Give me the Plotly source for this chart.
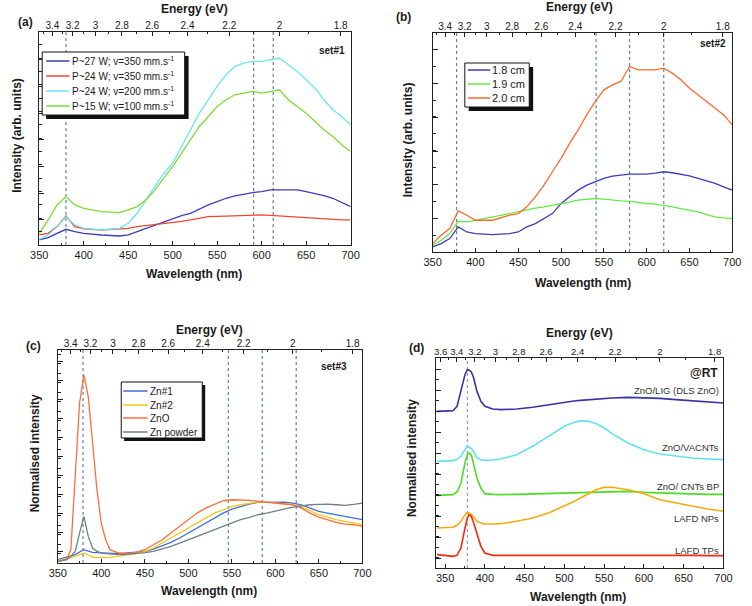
import plotly.graph_objects as go

W, H = 752, 606
def px(x): return x / W
def py(y): return 1 - y / H

# ---------------- data ----------------
# Panel (a) set#1
a_wl = [350, 360, 370, 380, 390, 400, 420, 440, 450, 460, 470, 480, 490, 500, 510, 520, 530, 540, 550, 560, 570, 580, 590, 600, 610, 620, 630, 640, 650, 660, 670, 680, 690, 700]
a_p27_v350 = [15, 22, 35, 47, 40, 35, 30, 27, 30, 40, 50, 60, 70, 80, 88, 95, 108, 120, 130, 140, 147, 153, 157, 160, 165, 165, 166, 165, 160, 155, 148, 140, 128, 115]
a_p24_v350 = [30, 35, 55, 87, 55, 48, 45, 47, 50, 55, 58, 60, 64, 67, 71, 75, 80, 85, 86, 87, 88, 88, 89, 90, 89, 87, 85, 83, 81, 80, 78, 75, 75, 75]
a_p24_v200 = [17, 30, 55, 85, 60, 50, 45, 50, 65, 95, 135, 175, 215, 245, 295, 345, 395, 435, 475, 510, 535, 545, 550, 550, 555, 560, 540, 520, 495, 470, 435, 405, 385, 360]
a_p15_v100 = [35, 75, 120, 145, 120, 110, 100, 97, 105, 115, 135, 165, 200, 235, 275, 315, 355, 385, 415, 435, 450, 455, 460, 455, 460, 465, 435, 415, 395, 370, 345, 325, 300, 280]
a_names = ["P~27 W; v=350 mm.s<sup>-1</sup>", "P~24 W; v=350 mm.s<sup>-1</sup>",
           "P~24 W; v=200 mm.s<sup>-1</sup>", "P~15 W; v=100 mm.s<sup>-1</sup>"]
a_marks = [380, 591, 613]

# Panel (b) set#2
b_wl = [350, 360, 370, 380, 390, 400, 420, 440, 450, 460, 470, 480, 490, 500, 510, 520, 530, 540, 550, 560, 570, 580, 590, 600, 610, 620, 630, 640, 650, 660, 670, 680, 690, 700]
b_18 = [15, 25, 40, 75, 60, 55, 52, 55, 60, 75, 85, 100, 115, 145, 165, 185, 200, 210, 220, 227, 230, 233, 233, 233, 236, 240, 237, 233, 228, 220, 213, 205, 195, 185]
b_19 = [20, 35, 55, 92, 90, 95, 103, 115, 121, 127, 131, 135, 139, 143, 149, 155, 158, 160, 158, 155, 153, 152, 148, 145, 143, 140, 135, 130, 125, 120, 112, 105, 102, 100]
b_20 = [25, 50, 70, 123, 110, 95, 95, 110, 115, 135, 165, 200, 240, 280, 325, 365, 410, 450, 485, 500, 510, 555, 545, 545, 545, 550, 535, 515, 490, 470, 450, 430, 410, 380]
b_names = ["1.8 cm", "1.9 cm", "2.0 cm"]
b_marks = [378, 541, 580, 620]

# Panel (c) set#3
c_wl = [350, 360, 365, 370, 375, 380, 385, 390, 395, 400, 405, 410, 420, 430, 440, 450, 460, 470, 480, 490, 500, 510, 520, 530, 540, 550, 560, 570, 580, 590, 600, 610, 620, 630, 640, 650, 660, 670, 680, 690, 700]
c_zn1 = [10, 17, 21, 25, 33, 40, 36, 32, 31, 30, 29, 29, 28, 30, 32, 35, 42, 52, 62, 75, 90, 105, 120, 135, 150, 162, 170, 177, 182, 183, 183, 183, 180, 175, 165, 155, 150, 145, 140, 135, 130]
c_zn2 = [7, 12, 16, 20, 25, 30, 24, 18, 16, 15, 16, 17, 20, 24, 28, 35, 45, 60, 75, 90, 105, 120, 135, 150, 160, 170, 175, 180, 183, 183, 180, 178, 175, 168, 158, 145, 137, 130, 125, 120, 115]
c_zno = [5, 10, 40, 260, 480, 565, 500, 360, 220, 120, 70, 40, 30, 28, 32, 40, 55, 70, 90, 110, 130, 150, 165, 177, 187, 190, 190, 188, 185, 182, 180, 177, 175, 165, 150, 138, 130, 122, 117, 115, 110]
c_znp = [5, 10, 20, 35, 90, 140, 80, 45, 35, 30, 28, 27, 25, 26, 28, 31, 35, 42, 50, 60, 70, 80, 90, 100, 110, 120, 130, 137, 145, 150, 155, 162, 168, 172, 175, 176, 177, 175, 173, 176, 180]
c_names = ["Zn#1", "Zn#2", "ZnO", "Zn powder"]
c_marks = [379, 546, 585, 624]

# Panel (d) @RT
d_wl = [340, 350, 360, 365, 370, 375, 378, 380, 383, 386, 390, 395, 400, 410, 420, 440, 460, 480, 500, 510, 520, 530, 540, 550, 560, 580, 600, 620, 640, 660, 680, 700]
d_lig = [470, 470, 472, 485, 535, 580, 595, 594, 588, 570, 530, 500, 485, 477, 475, 477, 482, 490, 497, 500, 503, 505, 507, 509, 510, 512, 511, 509, 505, 502, 498, 495]
d_vacnt = [320, 321, 322, 326, 335, 355, 365, 363, 358, 350, 330, 325, 323, 324, 327, 340, 365, 395, 425, 435, 442, 440, 433, 420, 403, 375, 355, 342, 335, 330, 327, 325]
d_cntbp = [218, 218, 220, 228, 255, 315, 340, 345, 340, 310, 270, 240, 223, 221, 220, 221, 222, 223, 225, 226, 226, 227, 227, 228, 229, 230, 227, 225, 223, 222, 221, 221]
d_lafd_np = [120, 120, 122, 128, 140, 160, 167, 165, 160, 152, 140, 135, 132, 132, 133, 140, 150, 165, 185, 197, 210, 222, 235, 242, 242, 235, 223, 205, 195, 185, 177, 170]
d_lafd_tp = [40, 38, 35, 38, 60, 120, 150, 160, 155, 135, 105, 65, 45, 38, 38, 38, 38, 38, 38, 38, 39, 39, 39, 40, 40, 39, 39, 38, 38, 38, 37, 37]
d_names = ["ZnO/LIG (DLS ZnO)", "ZnO/VACNTs", "ZnO/ CNTs BP", "LAFD NPs", "LAFD TPs"]
d_marks = [378]

energy_vals = [3.4, 3.2, 3.0, 2.8, 2.6, 2.4, 2.2, 2.0, 1.8]
energy_text = ["3.4", "3.2", "3", "2.8", "2.6", "2.4", "2.2", "2", "1.8"]
energy_vals_d = [3.6] + energy_vals
energy_text_d = ["3.6"] + energy_text
energy_minor = [3.5, 3.3, 3.1, 2.9, 2.7, 2.5, 2.3, 2.1, 1.9]

HC = 1240.0  # eV*nm

FONT = "Liberation Sans, Arial, sans-serif"
TXT = "#1a1a1a"

fig = go.Figure()

def add(xs, ys, name, color, ax, width=1.3):
    fig.add_trace(go.Scatter(
        x=xs, y=ys, name=name, mode="lines",
        line=dict(color=color, width=width),
        xaxis=ax[0], yaxis=ax[1], showlegend=False, hoverinfo="skip"))

ca = ["#3d3db8", "#f2452e", "#6ae6f2", "#7ddc35"]
for ys, nm, c in zip([a_p27_v350, a_p24_v350, a_p24_v200, a_p15_v100], a_names, ca):
    add(a_wl, ys, nm, c, ("x", "y"))

cb = ["#3d3db8", "#66e84a", "#ff6a2e"]
for ys, nm, c in zip([b_18, b_19, b_20], b_names, cb):
    add(b_wl, ys, nm, c, ("x2", "y2"))

cc = ["#3d6fd8", "#f5c518", "#ff6d3a", "#6f7f86"]
for ys, nm, c in zip([c_zn1, c_zn2, c_zno, c_znp], c_names, cc):
    add(c_wl, ys, nm, c, ("x3", "y3"))

cd = ["#3434a8", "#5fe2f0", "#4ade22", "#f5aa10", "#ee2a10"]
for ys, nm, c in zip([d_lig, d_vacnt, d_cntbp, d_lafd_np, d_lafd_tp], d_names, cd):
    add(d_wl, ys, nm, c, ("x4", "y4"), width=1.6)

panels = [
    dict(n="", xd=(31, 350), yd=(32, 245), xr=(350, 700), yr=(0, 638), ydt=80, y0=75, ev=energy_vals, et=energy_text, ts=10),
    dict(n="2", xd=(434, 741), yd=(33, 252), xr=(350, 700), yr=(0, 655), ydt=101, y0=100, ev=energy_vals, et=energy_text, ts=10),
    dict(n="3", xd=(50, 362), yd=(350, 563), xr=(350, 700), yr=(0, 640), ydt=57, y0=35, ev=energy_vals, et=energy_text, ts=10),
    dict(n="4", xd=(437, 732), yd=(358, 568), xr=(338, 700), yr=(0, 630), ydt=62.7, y0=30, ev=energy_vals_d, et=energy_text_d, ts=9.5),
]

layout = {}
for i, p in enumerate(panels):
    n = p["n"]
    xdom = [px(p["xd"][0]), px(p["xd"][1])]
    ydom = [py(p["yd"][1]), py(p["yd"][0])]
    layout["xaxis" + n] = dict(
        domain=xdom, range=list(p["xr"]), anchor="y" + n,
        showline=True, linecolor="#222", linewidth=1, mirror=True,
        ticks="inside", ticklen=4, tickcolor="#222", dtick=50, tick0=350, tickangle=0,
        minor=dict(ticks="inside", ticklen=2, dtick=25, tickcolor="#222"),
        showgrid=False, zeroline=False,
        tickfont=dict(family=FONT, size=11, color=TXT))
    layout["yaxis" + n] = dict(
        domain=ydom, range=list(p["yr"]), anchor="x" + n,
        showline=True, linecolor="#222", linewidth=1, mirror=True,
        ticks="inside", ticklen=5, tickcolor="#222", showticklabels=False,
        tick0=p["y0"], dtick=p["ydt"],
        minor=dict(ticks="inside", ticklen=3, dtick=p["ydt"] / 2, tickcolor="#222"),
        showgrid=False, zeroline=False)
    tn = str(5 + i)
    layout["xaxis" + tn] = dict(
        overlaying="x" + n, anchor="y" + n, side="top", range=list(p["xr"]),
        tickvals=[HC / e for e in p["ev"]], ticktext=p["et"], tickangle=0,
        ticks="inside", ticklen=4, tickcolor="#222",
        minor=dict(ticks="inside", ticklen=2, tickvals=[HC / e for e in energy_minor], tickcolor="#222"),
        showline=False, showgrid=False, zeroline=False,
        tickfont=dict(family=FONT, size=p["ts"], color=TXT))
    fig.add_trace(go.Scatter(x=[p["xr"][0]], y=[p["yr"][0]], mode="markers",
                             marker=dict(opacity=0), xaxis="x" + tn, yaxis="y" + n,
                             showlegend=False, hoverinfo="skip"))

shapes = []
ann = []

def text(x, y, s, size=12, bold=False, xanchor="center", angle=0, color=TXT):
    ann.append(dict(x=px(x), y=py(y), xref="paper", yref="paper", text=("<b>%s</b>" % s) if bold else s,
                    showarrow=False, xanchor=xanchor, yanchor="middle", textangle=angle,
                    font=dict(family=FONT, size=size, color=color)))

def vlines(marks, n, color="#6b7f99"):
    for m in marks:
        shapes.append(dict(type="line", xref="x" + n, yref="y" + n + " domain",
                           x0=m, x1=m, y0=0, y1=1, layer="below",
                           line=dict(color=color, width=1.2, dash="dot")))
vlines(a_marks, "")
vlines(b_marks, "2")
vlines(c_marks, "3")
vlines(d_marks, "4", "#8f9fc8")

# hand-drawn legend boxes with drop shadow (Origin style)
def legend_box(box, rows, line_x, text_x, names, colors, size, d=4):
    x0, y0, x1, y1 = box
    shapes.append(dict(type="rect", xref="paper", yref="paper",
                       x0=px(x0 + d), x1=px(x1 + d), y0=py(y1 + d), y1=py(y0 + d),
                       fillcolor="#111", line=dict(width=0), layer="above"))
    shapes.append(dict(type="rect", xref="paper", yref="paper",
                       x0=px(x0), x1=px(x1), y0=py(y1), y1=py(y0),
                       fillcolor="white", line=dict(width=1, color="#111"), layer="above"))
    for yy, nm, c in zip(rows, names, colors):
        shapes.append(dict(type="line", xref="paper", yref="paper",
                           x0=px(line_x[0]), x1=px(line_x[1]), y0=py(yy), y1=py(yy),
                           line=dict(color=c, width=1.5), layer="above"))
        text(text_x, yy, nm, size, False, xanchor="left")

legend_box((34, 52, 180, 115), [61, 76, 91, 106], (38, 62), 62, a_names, ca, 10)
legend_box((467, 63, 533, 107), [70, 84, 98], (470, 493), 493, b_names, cb, 11)
legend_box((115, 382, 198, 438), [391, 405, 418, 432], (117, 142), 142, c_names, cc, 10, d=3)

# panel (a)
text(190, 9, "Energy (eV)", 12, True)
text(17, 22, "(a)", 12, True)
text(190, 274, "Wavelength (nm)", 12, True)
text(8, 135, "Intensity (arb. units)", 12, True, angle=-90)
text(346, 50, "set#1", 10, True, xanchor="right")
# panel (b)
text(584, 7, "Energy (eV)", 12, True)
text(404, 17, "(b)", 12, True)
text(588, 283, "Wavelength (nm)", 12, True)
text(409, 140, "Intensity (arb. units)", 12, True, angle=-90)
text(737, 43, "set#2", 10, True, xanchor="right")
# panel (c)
text(205, 330, "Energy (eV)", 12, True)
text(25, 346, "(c)", 12, True)
text(205, 591, "Wavelength (nm)", 12, True)
text(27, 453, "Normalised intensity", 12, True, angle=-90)
text(348, 366, "set#3", 10, True, xanchor="right")
# panel (d)
text(584, 333, "Energy (eV)", 12, True)
text(418, 348, "(d)", 12, True)
text(583, 597, "Wavelength (nm)", 12, True)
text(413, 458, "Normalised intensity", 12, True, angle=-90)
text(728, 373, "@RT", 12, True, xanchor="right")
for s, yy in zip(d_names, [390, 447, 486, 518, 550]):
    text(729, yy, s, 9.5, False, xanchor="right", color="#333")

layout.update(
    width=W, height=H, margin=dict(l=0, r=0, t=0, b=0),
    paper_bgcolor="white", plot_bgcolor="white",
    showlegend=False, hovermode=False,
    shapes=shapes, annotations=ann,
)
fig.update_layout(**layout)
fig.write_html("out.html", config={"displayModeBar": False},
               post_script="document.body.style.margin='0';document.body.style.padding='0';")
